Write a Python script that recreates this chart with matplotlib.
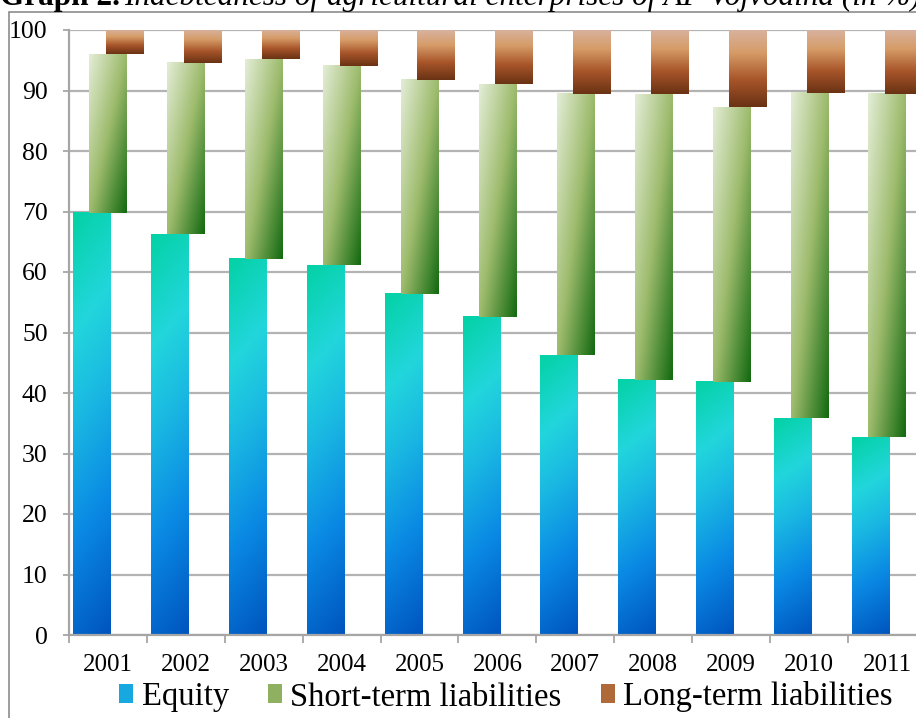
import numpy as np
import matplotlib.pyplot as plt
from matplotlib.colors import LinearSegmentedColormap
from matplotlib.patches import Patch, Rectangle

plt.rcParams['font.family'] = ['Liberation Serif', 'DejaVu Serif']

years = ['2001', '2002', '2003', '2004', '2005', '2006', '2007', '2008', '2009', '2010', '2011']
equity = [69.8, 66.2, 62.2, 61.1, 56.4, 52.6, 46.2, 42.2, 41.9, 35.8, 32.7]
short_term = [26.2, 28.3, 33.0, 32.9, 35.4, 38.4, 43.2, 47.2, 45.3, 53.8, 56.7]
long_term = [4.0, 5.5, 4.8, 6.0, 8.2, 9.0, 10.6, 10.6, 12.8, 10.4, 10.6]
labels = ['Equity', 'Short-term liabilities', 'Long-term liabilities']

cm_eq = LinearSegmentedColormap.from_list('eq', [(0, '#0055be'), (0.3, '#0a8ae4'), (0.55, '#1ab8e2'),
                                                 (0.75, '#22d6dc'), (1, '#04d2a6')])
cm_st = LinearSegmentedColormap.from_list('st', [(0, '#e2ecd4'), (0.5, '#9dbb6c'), (1, '#156b12')])
cm_lt = LinearSegmentedColormap.from_list('lt', [(0, '#d8b29e'), (0.3, '#d69c68'), (0.65, '#a8552a'),
                                                 (1, '#6a3314')])

fig = plt.figure(figsize=(9.16, 7.18), dpi=100)
ax = fig.add_axes([69/916, 83/718, 847/916, 605/718])

x = np.arange(len(years))
w = 0.475
bottom2 = np.array(equity) + np.array(short_term)
b1 = ax.bar(x - 0.21, equity, w, color='none', edgecolor='none')
b2 = ax.bar(x, short_term, w, bottom=equity, color='none', edgecolor='none')
b3 = ax.bar(x + 0.21, long_term, w, bottom=bottom2, color='none', edgecolor='none')


def gradient(bars, cmap, kind):
    yy, xx = np.mgrid[0:1:80j, 0:1:20j]
    if kind == 'eq':
        t = 0.9 * yy + 0.1 * (1 - xx)
    elif kind == 'st':
        t = 0.5 * xx + 0.5 * (1 - yy)
    else:
        t = 1 - yy
    for b in bars:
        x0, y0 = b.get_x(), b.get_y()
        ax.imshow(t, cmap=cmap, vmin=0, vmax=1, origin='lower', aspect='auto',
                  interpolation='bilinear', zorder=2,
                  extent=(x0, x0 + b.get_width(), y0, y0 + b.get_height()))


gradient(b1, cm_eq, 'eq')
gradient(b2, cm_st, 'st')
gradient(b3, cm_lt, 'lt')

ax.set_xlim(-0.5, 10.373)
ax.set_ylim(0, 100)
ax.set_yticks(range(0, 101, 10))
ax.set_xticks(x)
ax.set_xticklabels(years)
ax.set_xticks(np.arange(-0.5, 10.5, 1), minor=True)
ax.tick_params(axis='y', length=4.3, width=1.3, color='#a6a6a6', pad=11, labelsize=18.5)
ax.tick_params(axis='x', which='major', length=0, pad=14, labelsize=18)
ax.tick_params(axis='x', which='minor', length=6, width=1.3, color='#a6a6a6')
ax.yaxis.grid(True, color='#b3b3b3', lw=1.6)
ax.set_axisbelow(True)
for s in ['top', 'right']:
    ax.spines[s].set_visible(False)
for s in ['left', 'bottom']:
    ax.spines[s].set_color('#a6a6a6')
    ax.spines[s].set_linewidth(1.6)

handles = [Patch(facecolor='#18a8e0'), Patch(facecolor='#8fb060'), Patch(facecolor='#b06a3a')]
fig.legend(handles, labels, loc='center left', bbox_to_anchor=(119/916, 1 - 697/718), ncol=3,
           frameon=False, fontsize=23.5, handlelength=0.42, handleheight=0.52, handletextpad=0.27,
           columnspacing=1.2, borderpad=0, borderaxespad=0)

fig.add_artist(Rectangle((9/916, -0.05), 1.0, 1 - 12/718 + 0.05, transform=fig.transFigure,
                         fill=False, edgecolor='#8c8c8c', lw=1.2))

t1 = fig.text(0.0, 1 - 5/718, 'Graph 2.', fontweight='bold', fontsize=22.5, va='baseline')
fig.canvas.draw()
bb = t1.get_window_extent().transformed(fig.transFigure.inverted())
fig.text(bb.x1 + 0.005, 1 - 5/718, 'Indebtedness of agricultural enterprises of AP Vojvodina (in %)',
         fontstyle='italic', fontsize=22.5, va='baseline')

fig.savefig('out.png', dpi=100)
